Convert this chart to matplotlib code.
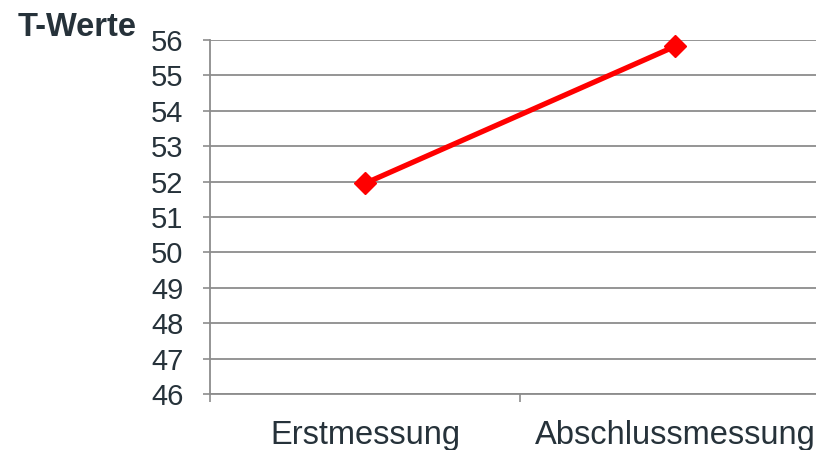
import matplotlib.pyplot as plt

plt.rcParams['font.family'] = ['Liberation Sans', 'DejaVu Sans']

categories = ['Erstmessung', 'Abschlussmessung']
t_werte = [51.95, 55.82]
y_ticks = list(range(46, 57))

text_col = '#26323a'
grid_col = '#8c8c8c'

fig = plt.figure(figsize=(8.16, 4.5), dpi=100)
ax = fig.add_axes([210 / 816, 56 / 450, 620 / 816, 354 / 450])

xs = [0.5, 1.5]
ax.plot(xs, t_werte, color='#ff0000', lw=3.8, marker='D', markersize=11.5,
        solid_capstyle='butt', zorder=3, clip_on=False)

ax.set_xlim(0, 2)
ax.set_ylim(46, 56)
ax.set_yticks(y_ticks)
ax.set_yticklabels([str(v) for v in y_ticks])
ax.set_xticks([0, 1, 2])
ax.set_xticklabels([])
ax.set_xticks(xs, minor=True)
ax.set_xticklabels(categories, minor=True)
ax.tick_params(axis='x', which='minor', length=0, pad=19, labelsize=23.5, labelcolor=text_col)
ax.tick_params(axis='x', which='major', length=6, width=1.2, color=grid_col)
ax.tick_params(axis='y', length=5, width=1.2, color=grid_col, pad=14, labelsize=21, labelcolor=text_col)

ax.yaxis.grid(True, color=grid_col, lw=1.3)
ax.set_axisbelow(True)
for s in ['top', 'right']:
    ax.spines[s].set_visible(False)
for s in ['left', 'bottom']:
    ax.spines[s].set_color(grid_col)
    ax.spines[s].set_linewidth(1.3)

fig.text(18 / 816, 1 - 28 / 450, 'T-Werte', fontsize=23.5, fontweight='bold',
         color=text_col, va='center', ha='left')

fig.savefig('out.png', dpi=100)
